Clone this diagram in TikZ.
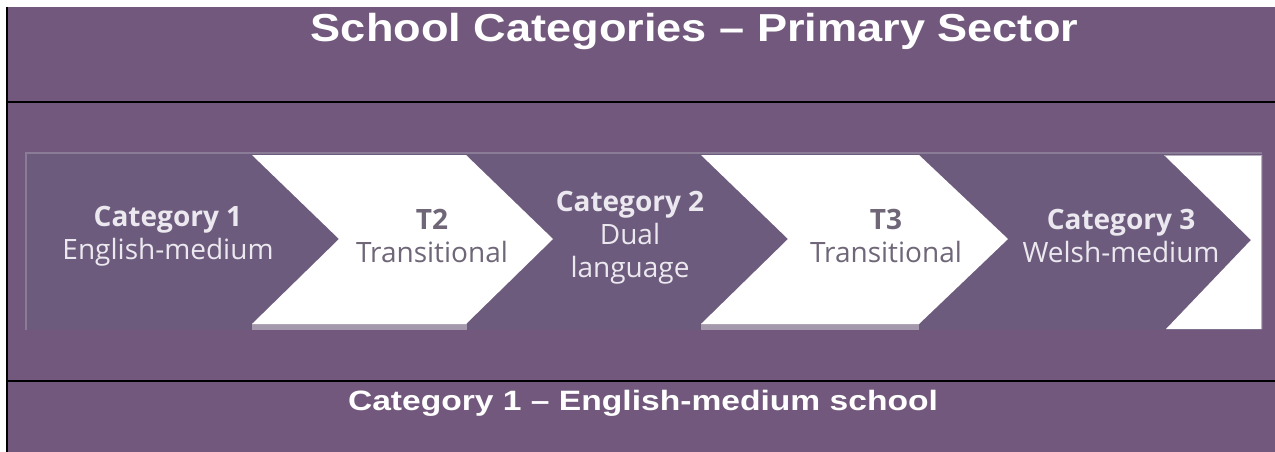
\documentclass[tikz,border=0pt]{standalone}
\usepackage{graphicx}
\usepackage{fontspec}
\newfontfamily\titlefont{Liberation Sans}
\newfontfamily\bandfont{Open Sans}
\IfFontExistsTF{Open Sans SemiBold}{\newfontfamily\bandsemi{Open Sans SemiBold}}{\newcommand\bandsemi{\bfseries}}
\definecolor{backpurple}{HTML}{72587C}
\definecolor{bandpurple}{HTML}{6C5B7D}
\definecolor{bandedge}{HTML}{8A7C96}
\definecolor{shadowgrey}{HTML}{A398AC}
\definecolor{paletext}{HTML}{ECE8EF}
\definecolor{chevgrey}{HTML}{6F6677}
\begin{document}
\begin{tikzpicture}[x=1pt,y=-1pt,
  heading/.style={font=\titlefont\bfseries\fontsize{39}{44}\selectfont,text=white,inner sep=0,anchor=base},
  subheading/.style={font=\titlefont\bfseries\fontsize{28}{32}\selectfont,text=white,inner sep=0,anchor=base},
  bandtext/.style={font=\bandfont\fontsize{28}{33}\selectfont,text=paletext,align=center,inner sep=0},
  chevtext/.style={bandtext,text=chevgrey},
  rule/.style={draw=black,line width=2.5pt}]
  \useasboundingbox (0,0) rectangle (1275,452);
  \fill[white] (0,0) rectangle (1275,452);
  \fill[backpurple] (8,7) rectangle (1275,452);
  \draw[rule] (7,7) -- (7,452);
  \draw[rule] (8,102) -- (1275,102);
  \draw[rule] (8,381) -- (1275,381);
  %
  % the band of chevrons
  \fill[bandpurple] (25,152) rectangle (1262,330);
  \draw[bandedge,line width=2.5pt] (26.2,330) -- (26.2,153.2) -- (1262,153.2);
  \fill[shadowgrey] (252,323) rectangle (467,330);
  \fill[shadowgrey] (701,323) rectangle (919,330);
  \fill[white] (252,155) -- (466,155) -- (553,239) -- (466,324) -- (252,324) -- (339,239) -- cycle;
  \fill[white] (701,155) -- (919,155) -- (1008,239) -- (919,324) -- (701,324) -- (788,239) -- cycle;
  \fill[white] (1164,155) -- (1262,155) -- (1262,329) -- (1166,329) -- (1251,240) -- cycle;
  \draw[bandedge!60,line width=1pt] (1164,155) -- (1261.5,155) -- (1261.5,329);
  %
  \node[heading] (title) at (694.5,42) {\scalebox{1.157}[1]{School Categories – Primary Sector}};
  \node[bandtext] (cat1) at (168,236) {{\bandsemi Category 1}\\English-medium};
  \node[chevtext] (t2)   at (432,236) {{\bandsemi T2}\\Transitional};
  \node[bandtext] (cat2) at (630,238) {{\bandsemi Category 2}\\Dual\\language};
  \node[chevtext] (t3)   at (886,236) {{\bandsemi T3}\\Transitional};
  \node[bandtext] (cat3) at (1121,236) {{\bandsemi Category 3}\\Welsh-medium};
  \node[subheading] (school) at (643,410) {\scalebox{1.2}[1]{Category 1 – English-medium school}};
\end{tikzpicture}
\end{document}
